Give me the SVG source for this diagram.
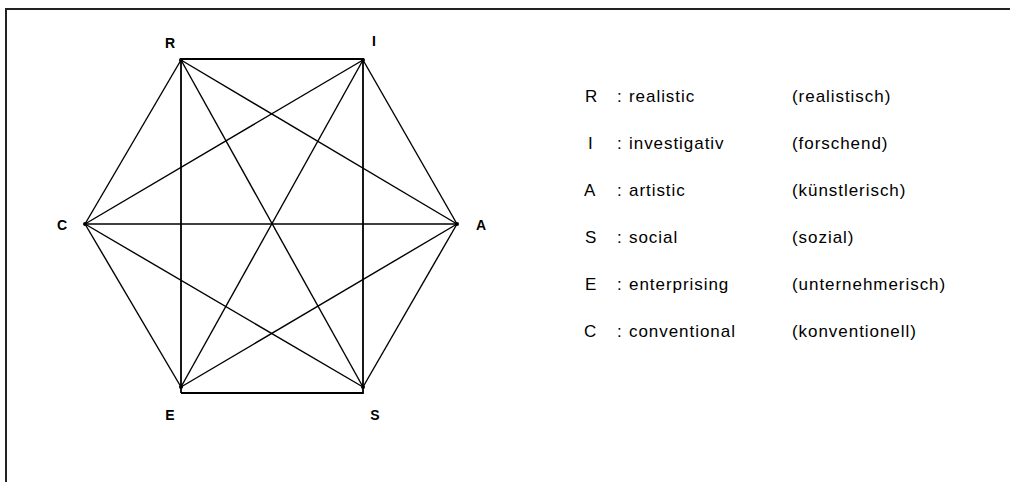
<svg xmlns="http://www.w3.org/2000/svg" width="1010" height="482" viewBox="0 0 1010 482">
<style>
.frame{stroke:#222;stroke-width:2;fill:none}
.edge{stroke:#000;stroke-width:1.4;fill:none}
.rect{stroke:#000;stroke-width:1.8;fill:none}
.lbl{font-family:"Liberation Sans",Arial,sans-serif;font-size:14px;font-weight:bold;fill:#000;text-anchor:middle}
.leg{font-family:"Liberation Sans",Arial,sans-serif;font-size:17px;letter-spacing:0.95px;fill:#000}
</style>
<rect width="1010" height="482" fill="#fff"/>
<path class="frame" d="M6 482 V9 H1010"/>
<g id="connectors">
<polyline class="rect" points="181,393 181,59 363,59 363,393 181,393"/>
<line class="edge" x1="363" y1="60" x2="457" y2="224"/>
<line class="edge" x1="457" y1="224" x2="363" y2="387"/>
<line class="edge" x1="181" y1="387" x2="85" y2="224"/>
<line class="edge" x1="85" y1="224" x2="181" y2="60"/>
<line class="edge" x1="181" y1="60" x2="457" y2="224"/>
<line class="edge" x1="181" y1="60" x2="363" y2="387"/>
<line class="edge" x1="363" y1="60" x2="85" y2="224"/>
<line class="edge" x1="363" y1="60" x2="181" y2="387"/>
<line class="edge" x1="85" y1="224" x2="457" y2="224"/>
<line class="edge" x1="85" y1="224" x2="363" y2="387"/>
<line class="edge" x1="457" y1="224" x2="181" y2="387"/>
</g>
<g id="node-R"><circle cx="181" cy="60" r="2"/><text class="lbl" x="170" y="48">R</text></g>
<g id="node-I"><circle cx="363" cy="60" r="2"/><text class="lbl" x="374" y="46">I</text></g>
<g id="node-A"><circle cx="457" cy="224" r="2"/><text class="lbl" x="481" y="230">A</text></g>
<g id="node-S"><circle cx="363" cy="387" r="2"/><text class="lbl" x="375" y="420">S</text></g>
<g id="node-E"><circle cx="181" cy="387" r="2"/><text class="lbl" x="170" y="420">E</text></g>
<g id="node-C"><circle cx="85" cy="224" r="2"/><text class="lbl" x="62" y="230">C</text></g>
<g id="legend">
<text class="leg" y="102"><tspan x="585">R</tspan><tspan x="617">:</tspan><tspan x="629">realistic</tspan><tspan x="792">(realistisch)</tspan></text>
<text class="leg" y="149"><tspan x="588">I</tspan><tspan x="617">:</tspan><tspan x="629">investigativ</tspan><tspan x="792">(forschend)</tspan></text>
<text class="leg" y="196"><tspan x="584">A</tspan><tspan x="617">:</tspan><tspan x="629">artistic</tspan><tspan x="792">(künstlerisch)</tspan></text>
<text class="leg" y="243"><tspan x="585">S</tspan><tspan x="617">:</tspan><tspan x="629">social</tspan><tspan x="792">(sozial)</tspan></text>
<text class="leg" y="290"><tspan x="585">E</tspan><tspan x="617">:</tspan><tspan x="629">enterprising</tspan><tspan x="792">(unternehmerisch)</tspan></text>
<text class="leg" y="337"><tspan x="584">C</tspan><tspan x="617">:</tspan><tspan x="629">conventional</tspan><tspan x="792">(konventionell)</tspan></text>
</g>
</svg>
